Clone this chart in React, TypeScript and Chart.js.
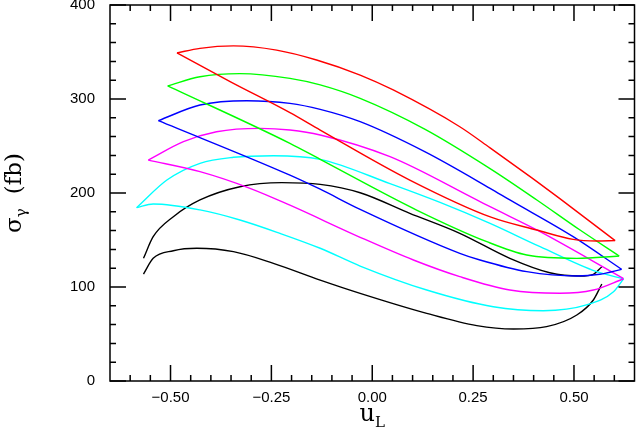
import React, { useEffect, useRef } from "react";
import { Chart, registerables } from "chart.js";

Chart.register(...registerables);

// ---- axis ticks ----
const xTickValues = [-0.5, -0.25, 0, 0.25, 0.5];
const yTickValues = [0, 100, 200, 300, 400];
const xMinorTicks = [-0.6, -0.55, -0.45, -0.4, -0.35, -0.3, -0.2, -0.15, -0.1, -0.05, 0.05, 0.1, 0.15, 0.2, 0.3, 0.35, 0.4, 0.45, 0.55, 0.6];
const yMinorTicks = [20, 40, 60, 80, 120, 140, 160, 180, 220, 240, 260, 280, 320, 340, 360, 380];

// ---- curves: [u_L, sigma] ----
const redUpper = [[-0.484, 349], [-0.427, 353.9], [-0.344, 356.5], [-0.237, 352], [-0.138, 341.5], [-0.03, 325.5], [0.052, 309.6], [0.217, 270.5], [0.292, 248], [0.399, 215], [0.465, 194], [0.602, 149.3]];
const redLower = [[-0.484, 349], [-0.35, 318], [-0.204, 285.5], [-0.129, 267], [0.093, 213.8], [0.296, 174], [0.408, 160.6], [0.498, 150.7], [0.556, 149], [0.602, 149.3]];

const greenUpper = [[-0.507, 314], [-0.427, 323.7], [-0.328, 327], [-0.204, 322], [-0.129, 315], [-0.03, 300.7], [0.13, 268], [0.292, 226], [0.408, 192.6], [0.515, 160.6], [0.612, 133]];
const greenLower = [[-0.507, 314], [-0.204, 252.8], [-0.129, 235.8], [0.11, 181.9], [0.284, 148.2], [0.383, 134], [0.507, 130.5], [0.612, 133]];

const blueUpper = [[-0.53, 277], [-0.427, 293.6], [-0.311, 298.2], [-0.204, 295.4], [-0.129, 289], [-0.03, 275.9], [0.13, 244], [0.292, 205], [0.341, 192.6], [0.498, 153.5], [0.618, 118.8]];
const blueLower = [[-0.53, 277], [-0.204, 219], [-0.129, 204], [-0.03, 182.6], [0.217, 135.8], [0.267, 128.7], [0.383, 116.3], [0.507, 111.7], [0.564, 113.5], [0.618, 118.8]];

const magentaUpper = [[-0.555, 235], [-0.468, 254.6], [-0.386, 265.2], [-0.278, 268.8], [-0.204, 267], [-0.129, 261.7], [0.044, 238.6], [0.259, 192.6], [0.292, 185.4], [0.416, 158.9], [0.622, 109.2]];
const magentaLower = [[-0.555, 235], [-0.427, 222.7], [-0.303, 205], [-0.204, 187], [-0.03, 152.9], [0.102, 128.7], [0.217, 111], [0.341, 96.8], [0.465, 93.3], [0.548, 96.8], [0.623, 108.8]];

const cyanUpper = [[-0.584, 184.4], [-0.509, 213.8], [-0.427, 231.6], [-0.344, 238], [-0.245, 239.7], [-0.129, 235.8], [0.044, 210], [0.168, 190], [0.292, 167.7], [0.416, 142.9], [0.556, 116.3], [0.623, 108.8]];
const cyanLower = [[-0.584, 184.4], [-0.543, 188.3], [-0.427, 182], [-0.328, 171.3], [-0.229, 157.1], [-0.129, 141.2], [-0.03, 122.3], [0.135, 96.8], [0.3, 79], [0.424, 74.8], [0.531, 80.9], [0.598, 95], [0.623, 108.8]];

const blackUpper = [[-0.567, 130.5], [-0.543, 153.5], [-0.493, 174.8], [-0.427, 192.6], [-0.328, 206.7], [-0.224, 211], [-0.129, 209.2], [-0.03, 200.3], [0.093, 178.4], [0.217, 157.1], [0.341, 130.5], [0.44, 115.2], [0.515, 111.7], [0.548, 113.5], [0.569, 121.6]];
const blackLower = [[-0.567, 113.8], [-0.543, 130.5], [-0.493, 138.6], [-0.435, 141.2], [-0.344, 137.6], [-0.245, 125.2], [-0.129, 107.4], [-0.03, 93.3], [0.135, 72], [0.259, 58.9], [0.35, 55.3], [0.432, 57.8], [0.507, 70.2], [0.548, 86.2], [0.569, 103.2]];

const curves = [
  { color: "#ff0000", parts: [redUpper, redLower] },
  { color: "#00ff00", parts: [greenUpper, greenLower] },
  { color: "#0000ff", parts: [blueUpper, blueLower] },
  { color: "#ff00ff", parts: [magentaUpper, magentaLower] },
  { color: "#00ffff", parts: [cyanUpper, cyanLower] },
  { color: "#000000", parts: [blackUpper, blackLower] },
];

const fmtX = (v: number) => Number(v).toFixed(2).replace("-", "\u2212");

const framePlugin = {
  id: "framePlugin",
  afterDatasetsDraw(chart: any) {
    const { ctx, chartArea: a, scales } = chart;
    const xs = scales.x;
    const ys = scales.y;
    ctx.save();
    ctx.strokeStyle = "#000";
    ctx.lineWidth = 1.5;
    ctx.strokeRect(a.left, a.top, a.right - a.left, a.bottom - a.top);
    ctx.beginPath();
    const drawX = (v: number, len: number) => {
      const px = xs.getPixelForValue(v);
      ctx.moveTo(px, a.bottom);
      ctx.lineTo(px, a.bottom - len);
      ctx.moveTo(px, a.top);
      ctx.lineTo(px, a.top + len);
    };
    const drawY = (v: number, len: number) => {
      const py = ys.getPixelForValue(v);
      ctx.moveTo(a.left, py);
      ctx.lineTo(a.left + len, py);
      ctx.moveTo(a.right, py);
      ctx.lineTo(a.right - len, py);
    };
    xTickValues.forEach((v) => drawX(v, 16));
    xMinorTicks.forEach((v) => drawX(v, 6));
    yTickValues.forEach((v) => drawY(v, 16));
    yMinorTicks.forEach((v) => drawY(v, 6));
    ctx.stroke();

    // x title: u_L
    ctx.fillStyle = "#000";
    ctx.textBaseline = "alphabetic";
    ctx.textAlign = "left";
    const cx = (a.left + a.right) / 2;
    const bigFont = '24px "DejaVu Serif"';
    const smallFont = '15px "DejaVu Serif"';
    ctx.font = bigFont;
    const wu = ctx.measureText("u").width;
    ctx.font = smallFont;
    const wl = ctx.measureText("L").width;
    const sx = cx - (wu + wl) / 2;
    ctx.font = bigFont;
    ctx.fillText("u", sx, 421);
    ctx.font = smallFont;
    ctx.fillText("L", sx + wu, 427);

    // y title: sigma_gamma (fb)
    const cy = (a.top + a.bottom) / 2;
    ctx.save();
    ctx.translate(21, cy);
    ctx.rotate(-Math.PI / 2);
    const yBig = '23px "DejaVu Serif"';
    const ySmall = '15px "DejaVu Serif"';
    ctx.font = yBig;
    const ws = ctx.measureText("\u03c3").width;
    const wfb = ctx.measureText("(fb)").width;
    ctx.font = ySmall;
    const wg = ctx.measureText("\u03b3").width;
    const gap = 14;
    const total = ws + wg + gap + wfb;
    let tx = -total / 2;
    ctx.font = yBig;
    ctx.fillText("\u03c3", tx, 0);
    tx += ws;
    ctx.font = ySmall;
    ctx.fillText("\u03b3", tx, 5);
    tx += wg + gap;
    ctx.font = yBig;
    ctx.fillText("(fb)", tx, 0);
    ctx.restore();

    ctx.restore();
  },
};

export default function App() {
  const ref = useRef<HTMLCanvasElement | null>(null);
  useEffect(() => {
    if (!ref.current) return;
    const datasets: any[] = [];
    curves.forEach((c) => {
      c.parts.forEach((pts) => {
        datasets.push({
          data: pts.map(([x, y]) => ({ x, y })),
          borderColor: c.color,
          backgroundColor: c.color,
          borderWidth: 1.4,
          pointRadius: 0,
          fill: false,
          cubicInterpolationMode: "monotone",
        });
      });
    });
    const chart = new Chart(ref.current, {
      type: "line",
      data: { datasets },
      options: {
        animation: false,
        responsive: false,
        maintainAspectRatio: false,
        devicePixelRatio: 1,
        events: [],
        layout: { padding: { top: 5, right: 2.5, left: 0, bottom: 0 } },
        plugins: { legend: { display: false }, tooltip: { enabled: false }, title: { display: false } },
        scales: {
          x: {
            type: "linear",
            min: -0.65,
            max: 0.65,
            afterBuildTicks: (s: any) => {
              s.ticks = xTickValues.map((v) => ({ value: v }));
            },
            afterFit: (s: any) => {
              s.height = 55;
              s.paddingLeft = 0;
              s.paddingRight = 0;
            },
            grid: { display: false },
            border: { display: false },
            ticks: {
              callback: (v: any) => fmtX(v),
              font: { family: '"Liberation Sans", Arial, sans-serif', size: 15, lineHeight: 0.6 },
              color: "#000",
              padding: 4,
              maxRotation: 0,
              autoSkip: false,
            },
          },
          y: {
            type: "linear",
            min: 0,
            max: 400,
            afterBuildTicks: (s: any) => {
              s.ticks = yTickValues.map((v) => ({ value: v }));
            },
            afterFit: (s: any) => {
              s.width = 110;
              s.paddingTop = 0;
              s.paddingBottom = 0;
            },
            grid: { display: false },
            border: { display: false },
            ticks: {
              callback: (v: any) => String(v),
              font: { family: '"Liberation Sans", Arial, sans-serif', size: 15, lineHeight: 0.6 },
              color: "#000",
              padding: 7,
              autoSkip: false,
            },
          },
        },
      } as any,
      plugins: [framePlugin],
    });
    return () => chart.destroy();
  }, []);
  return (
    <div style={{ position: "fixed", left: 0, top: 0, width: 637, height: 436, background: "#fff" }}>
      <canvas ref={ref} width={637} height={436} style={{ width: 637, height: 436, display: "block" }} />
    </div>
  );
}
